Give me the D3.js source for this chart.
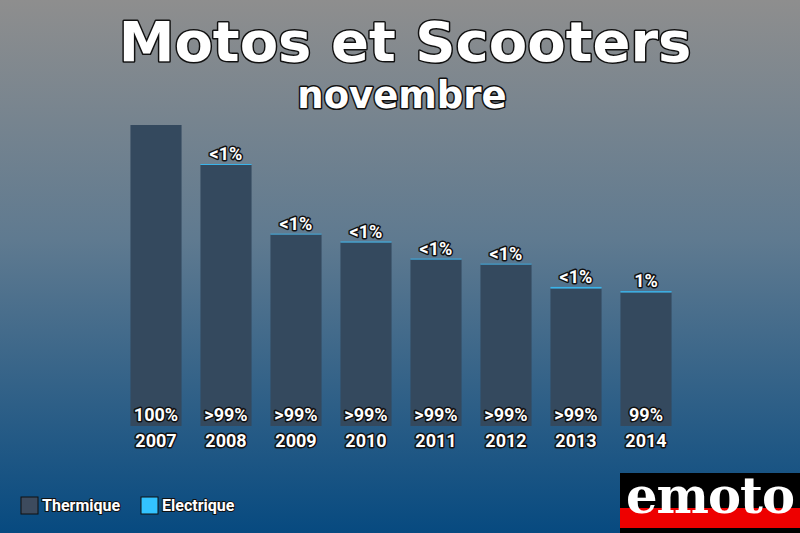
<!DOCTYPE html>
<html><head><meta charset="utf-8">
<script src="https://cdn.jsdelivr.net/npm/d3@7"></script>
<style>body{margin:0;}svg{display:block;}</style>
</head><body>
<svg id="c" width="800" height="533"></svg>
<script>
const years = ["2007","2008","2009","2010","2011","2012","2013","2014"];
const thermique = [3010, 2610, 1915, 1835, 1665, 1615, 1375, 1335];
const electrique = [0, 10, 8, 10, 9, 8, 16, 14];
const topLabels = ["", "<1%", "<1%", "<1%", "<1%", "<1%", "<1%", "1%"];
const bottomLabels = ["100%", ">99%", ">99%", ">99%", ">99%", ">99%", ">99%", "99%"];
const legendItems = ["Thermique", "Electrique"];

const svg = d3.select("#c");
const defs = svg.append("defs");
const g = defs.append("linearGradient").attr("id","bg").attr("x1",0).attr("y1",0).attr("x2",0).attr("y2",1);
g.append("stop").attr("offset","0").attr("stop-color","#8e8e8e");
g.append("stop").attr("offset","0.45").attr("stop-color","#5f7a90");
g.append("stop").attr("offset","1").attr("stop-color","#074a80");
svg.append("rect").attr("width",800).attr("height",533).attr("fill","url(#bg)");

const x = d3.scaleBand().domain(years).range([121, 681]).paddingInner(0.27).paddingOuter(0.135);
const base = 426;
const y = d3.scaleLinear().domain([0, 3010]).range([base, 125]);

const data = years.map((yr,i)=>({yr, t:thermique[i], e:electrique[i], tl:topLabels[i], bl:bottomLabels[i]}));

svg.append("g").selectAll("rect").data(data).join("rect")
  .attr("x", d=>x(d.yr)).attr("width", x.bandwidth())
  .attr("y", d=>y(d.t)).attr("height", d=>base - y(d.t))
  .attr("fill","#34495e");
svg.append("g").selectAll("rect").data(data.filter(d=>d.e>0)).join("rect")
  .attr("x", d=>x(d.yr)).attr("width", x.bandwidth())
  .attr("y", d=>y(d.t+d.e)).attr("height", d=>y(d.t)-y(d.t+d.e))
  .attr("fill","#3ab4ea");

function outlined(sel){
  return sel.attr("fill","#fff").attr("stroke","#111").attr("stroke-width",3)
    .attr("paint-order","stroke").attr("stroke-linejoin","round");
}
const lf = "Roboto, sans-serif";
outlined(svg.append("g").selectAll("text").data(data.filter(d=>d.tl)).join("text"))
  .attr("x", d=>x(d.yr)+x.bandwidth()/2).attr("y", d=>y(d.t+d.e)-4)
  .attr("text-anchor","middle").attr("font-family",lf).attr("font-weight","bold").attr("font-size",18)
  .text(d=>d.tl);
outlined(svg.append("g").selectAll("text").data(data).join("text"))
  .attr("x", d=>x(d.yr)+x.bandwidth()/2).attr("y", 421)
  .attr("text-anchor","middle").attr("font-family",lf).attr("font-weight","bold").attr("font-size",18)
  .text(d=>d.bl);

const xAxis = svg.append("g").attr("transform",`translate(0,${base})`)
  .call(d3.axisBottom(x).tickSize(0).tickPadding(5));
xAxis.select(".domain").remove();
outlined(xAxis.selectAll("text"))
  .attr("font-family",lf).attr("font-weight","bold").attr("font-size",18).attr("dy","0.9em");

outlined(svg.append("text")).attr("x",405).attr("y",61).attr("text-anchor","middle")
  .attr("font-family","DejaVu Sans").attr("font-weight","bold").attr("font-size",56).attr("stroke-width",3)
  .text("Motos et Scooters");
outlined(svg.append("text")).attr("x",402).attr("y",108).attr("text-anchor","middle")
  .attr("font-family","DejaVu Sans").attr("font-weight","bold").attr("font-size",37).attr("stroke-width",3)
  .text("novembre");

const legColors = ["#3d4b5e","#33c3ff"];
const lg = svg.append("g").selectAll("g").data(legendItems).join("g")
  .attr("transform",(d,i)=>`translate(${21 + i*120},497)`);
lg.append("rect").attr("width",17).attr("height",17).attr("fill",(d,i)=>legColors[i])
  .attr("stroke","#111").attr("stroke-width",1);
outlined(lg.append("text")).attr("x",21).attr("y",14).attr("font-family",lf).attr("font-weight","bold")
  .attr("font-size",16).attr("stroke-width",2).text(d=>d);

const logo = svg.append("g").attr("transform","translate(620,473)");
logo.append("rect").attr("width",180).attr("height",60).attr("fill","#000");
logo.append("rect").attr("y",35).attr("width",180).attr("height",20).attr("fill","#ee0000");
logo.append("text").attr("x",90).attr("y",40).attr("text-anchor","middle")
  .attr("font-family","DejaVu Serif").attr("font-weight","bold").attr("font-size",50)
  .attr("letter-spacing",-1).attr("fill","#fff").attr("textLength",168).attr("lengthAdjust","spacingAndGlyphs")
  .text("emoto");
</script>
</body></html>
